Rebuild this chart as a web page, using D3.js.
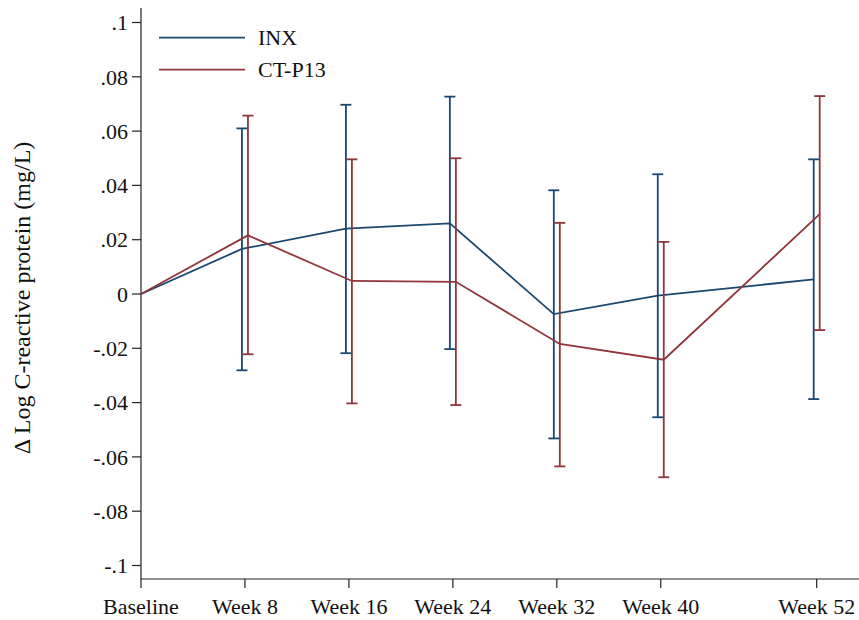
<!DOCTYPE html>
<html>
<head>
<meta charset="utf-8">
<script src="https://cdn.jsdelivr.net/npm/d3@7/dist/d3.min.js"></script>
<style>
  html, body { margin: 0; padding: 0; background: #fff; }
  svg { display: block; font-family: "Liberation Serif", "Times New Roman", serif; }
</style>
</head>
<body>
<svg id="chart" width="859" height="620"></svg>
<script>
// Visit schedule (weeks since baseline) and their axis labels
const weeks = [0, 8, 16, 24, 32, 40, 52];
const weekLabels = ["Baseline", "Week 8", "Week 16", "Week 24", "Week 32", "Week 40", "Week 52"];

// Y axis ticks
const yTicks = [-0.1, -0.08, -0.06, -0.04, -0.02, 0, 0.02, 0.04, 0.06, 0.08, 0.1];

// Mean change in log CRP with 95% CI bounds (null = no interval at baseline)
const inxMean = [0, 0.0166, 0.0241, 0.0260, -0.0074, -0.0006, 0.0054];
const inxLow  = [null, -0.0281, -0.0218, -0.0203, -0.0532, -0.0454, -0.0387];
const inxHigh = [null, 0.0610, 0.0697, 0.0727, 0.0382, 0.0441, 0.0496];

const ctMean = [0, 0.0216, 0.0048, 0.0045, -0.0184, -0.0242, 0.0294];
const ctLow  = [null, -0.0222, -0.0403, -0.0409, -0.0635, -0.0675, -0.0133];
const ctHigh = [null, 0.0657, 0.0496, 0.0500, 0.0262, 0.0192, 0.0729];

const series = [
  { name: "INX",    color: "#1a476f", mean: inxMean, low: inxLow, high: inxHigh, shift: -3 },
  { name: "CT-P13", color: "#90353b", mean: ctMean,  low: ctLow,  high: ctHigh,  shift: 3 }
];

const svg = d3.select("#chart");
const x = d3.scaleLinear().domain([0, 52]).range([141, 816.7]);
const y = d3.scaleLinear().domain([-0.1, 0.1]).range([565.5, 22.5]);
const axisY = 579;
const axisColor = "#222";

// Tick labels without the leading zero: ".04", "-.02", "0"
function fmtTick(v) {
  if (Math.abs(v) < 1e-9) return "0";
  return String(+v.toFixed(2)).replace(/^(-?)0\./, "$1.");
}

// Y axis
const gy = svg.append("g");
gy.append("line")
  .attr("x1", x(0)).attr("x2", x(0))
  .attr("y1", 8).attr("y2", axisY)
  .attr("stroke", axisColor).attr("stroke-width", 1.2);
gy.selectAll("line.tick").data(yTicks).join("line")
  .attr("class", "tick")
  .attr("x1", x(0) - 9).attr("x2", x(0))
  .attr("y1", d => y(d)).attr("y2", d => y(d))
  .attr("stroke", axisColor).attr("stroke-width", 1.2);
gy.selectAll("text").data(yTicks).join("text")
  .attr("x", x(0) - 13)
  .attr("y", d => y(d))
  .attr("dy", "0.35em")
  .attr("text-anchor", "end")
  .attr("font-size", 22)
  .attr("fill", "#111")
  .text(fmtTick);

// X axis
const gx = svg.append("g");
gx.append("line")
  .attr("x1", x(0)).attr("x2", 859)
  .attr("y1", axisY).attr("y2", axisY)
  .attr("stroke", axisColor).attr("stroke-width", 1.2);
gx.selectAll("line.tick").data(weeks).join("line")
  .attr("class", "tick")
  .attr("x1", d => x(d)).attr("x2", d => x(d))
  .attr("y1", axisY).attr("y2", axisY + 9)
  .attr("stroke", axisColor).attr("stroke-width", 1.2);
gx.selectAll("text").data(weeks).join("text")
  .attr("x", d => x(d))
  .attr("y", 614)
  .attr("text-anchor", "middle")
  .attr("font-size", 22)
  .attr("fill", "#111")
  .text((d, i) => weekLabels[i]);

// Y axis title
svg.append("text")
  .attr("transform", "translate(30,298) rotate(-90)")
  .attr("text-anchor", "middle")
  .attr("font-size", 24)
  .attr("fill", "#111")
  .text("\u0394 Log C-reactive protein (mg/L)");

// Series: connecting lines and CI whiskers, dodged horizontally per group
series.forEach(s => {
  const px = i => x(weeks[i]) + (weeks[i] === 0 ? 0 : s.shift);
  const pts = s.mean.map((m, i) => [px(i), y(m)]);
  const g = svg.append("g");

  const bars = s.mean.map((m, i) => ({ i, lo: s.low[i], hi: s.high[i] }))
    .filter(d => d.lo !== null);

  g.selectAll("line.ci").data(bars).join("line")
    .attr("class", "ci")
    .attr("x1", d => px(d.i)).attr("x2", d => px(d.i))
    .attr("y1", d => y(d.lo)).attr("y2", d => y(d.hi))
    .attr("stroke", s.color).attr("stroke-width", 1.8);
  ["lo", "hi"].forEach(k => {
    g.selectAll("line.cap-" + k).data(bars).join("line")
      .attr("class", "cap-" + k)
      .attr("x1", d => px(d.i) - 5.5).attr("x2", d => px(d.i) + 5.5)
      .attr("y1", d => y(d[k])).attr("y2", d => y(d[k]))
      .attr("stroke", s.color).attr("stroke-width", 1.8);
  });

  g.append("path")
    .attr("d", d3.line()(pts))
    .attr("fill", "none")
    .attr("stroke", s.color)
    .attr("stroke-width", 1.8)
    .attr("stroke-linejoin", "miter");
});

// Legend
const legend = svg.append("g");
series.forEach((s, i) => {
  const ly = 37.7 + i * 32;
  legend.append("line")
    .attr("x1", 159).attr("x2", 245)
    .attr("y1", ly).attr("y2", ly)
    .attr("stroke", s.color).attr("stroke-width", 1.8);
  legend.append("text")
    .attr("x", 258).attr("y", ly)
    .attr("dy", "0.35em")
    .attr("font-size", 22)
    .attr("fill", "#111")
    .text(s.name);
});
</script>
</body>
</html>
